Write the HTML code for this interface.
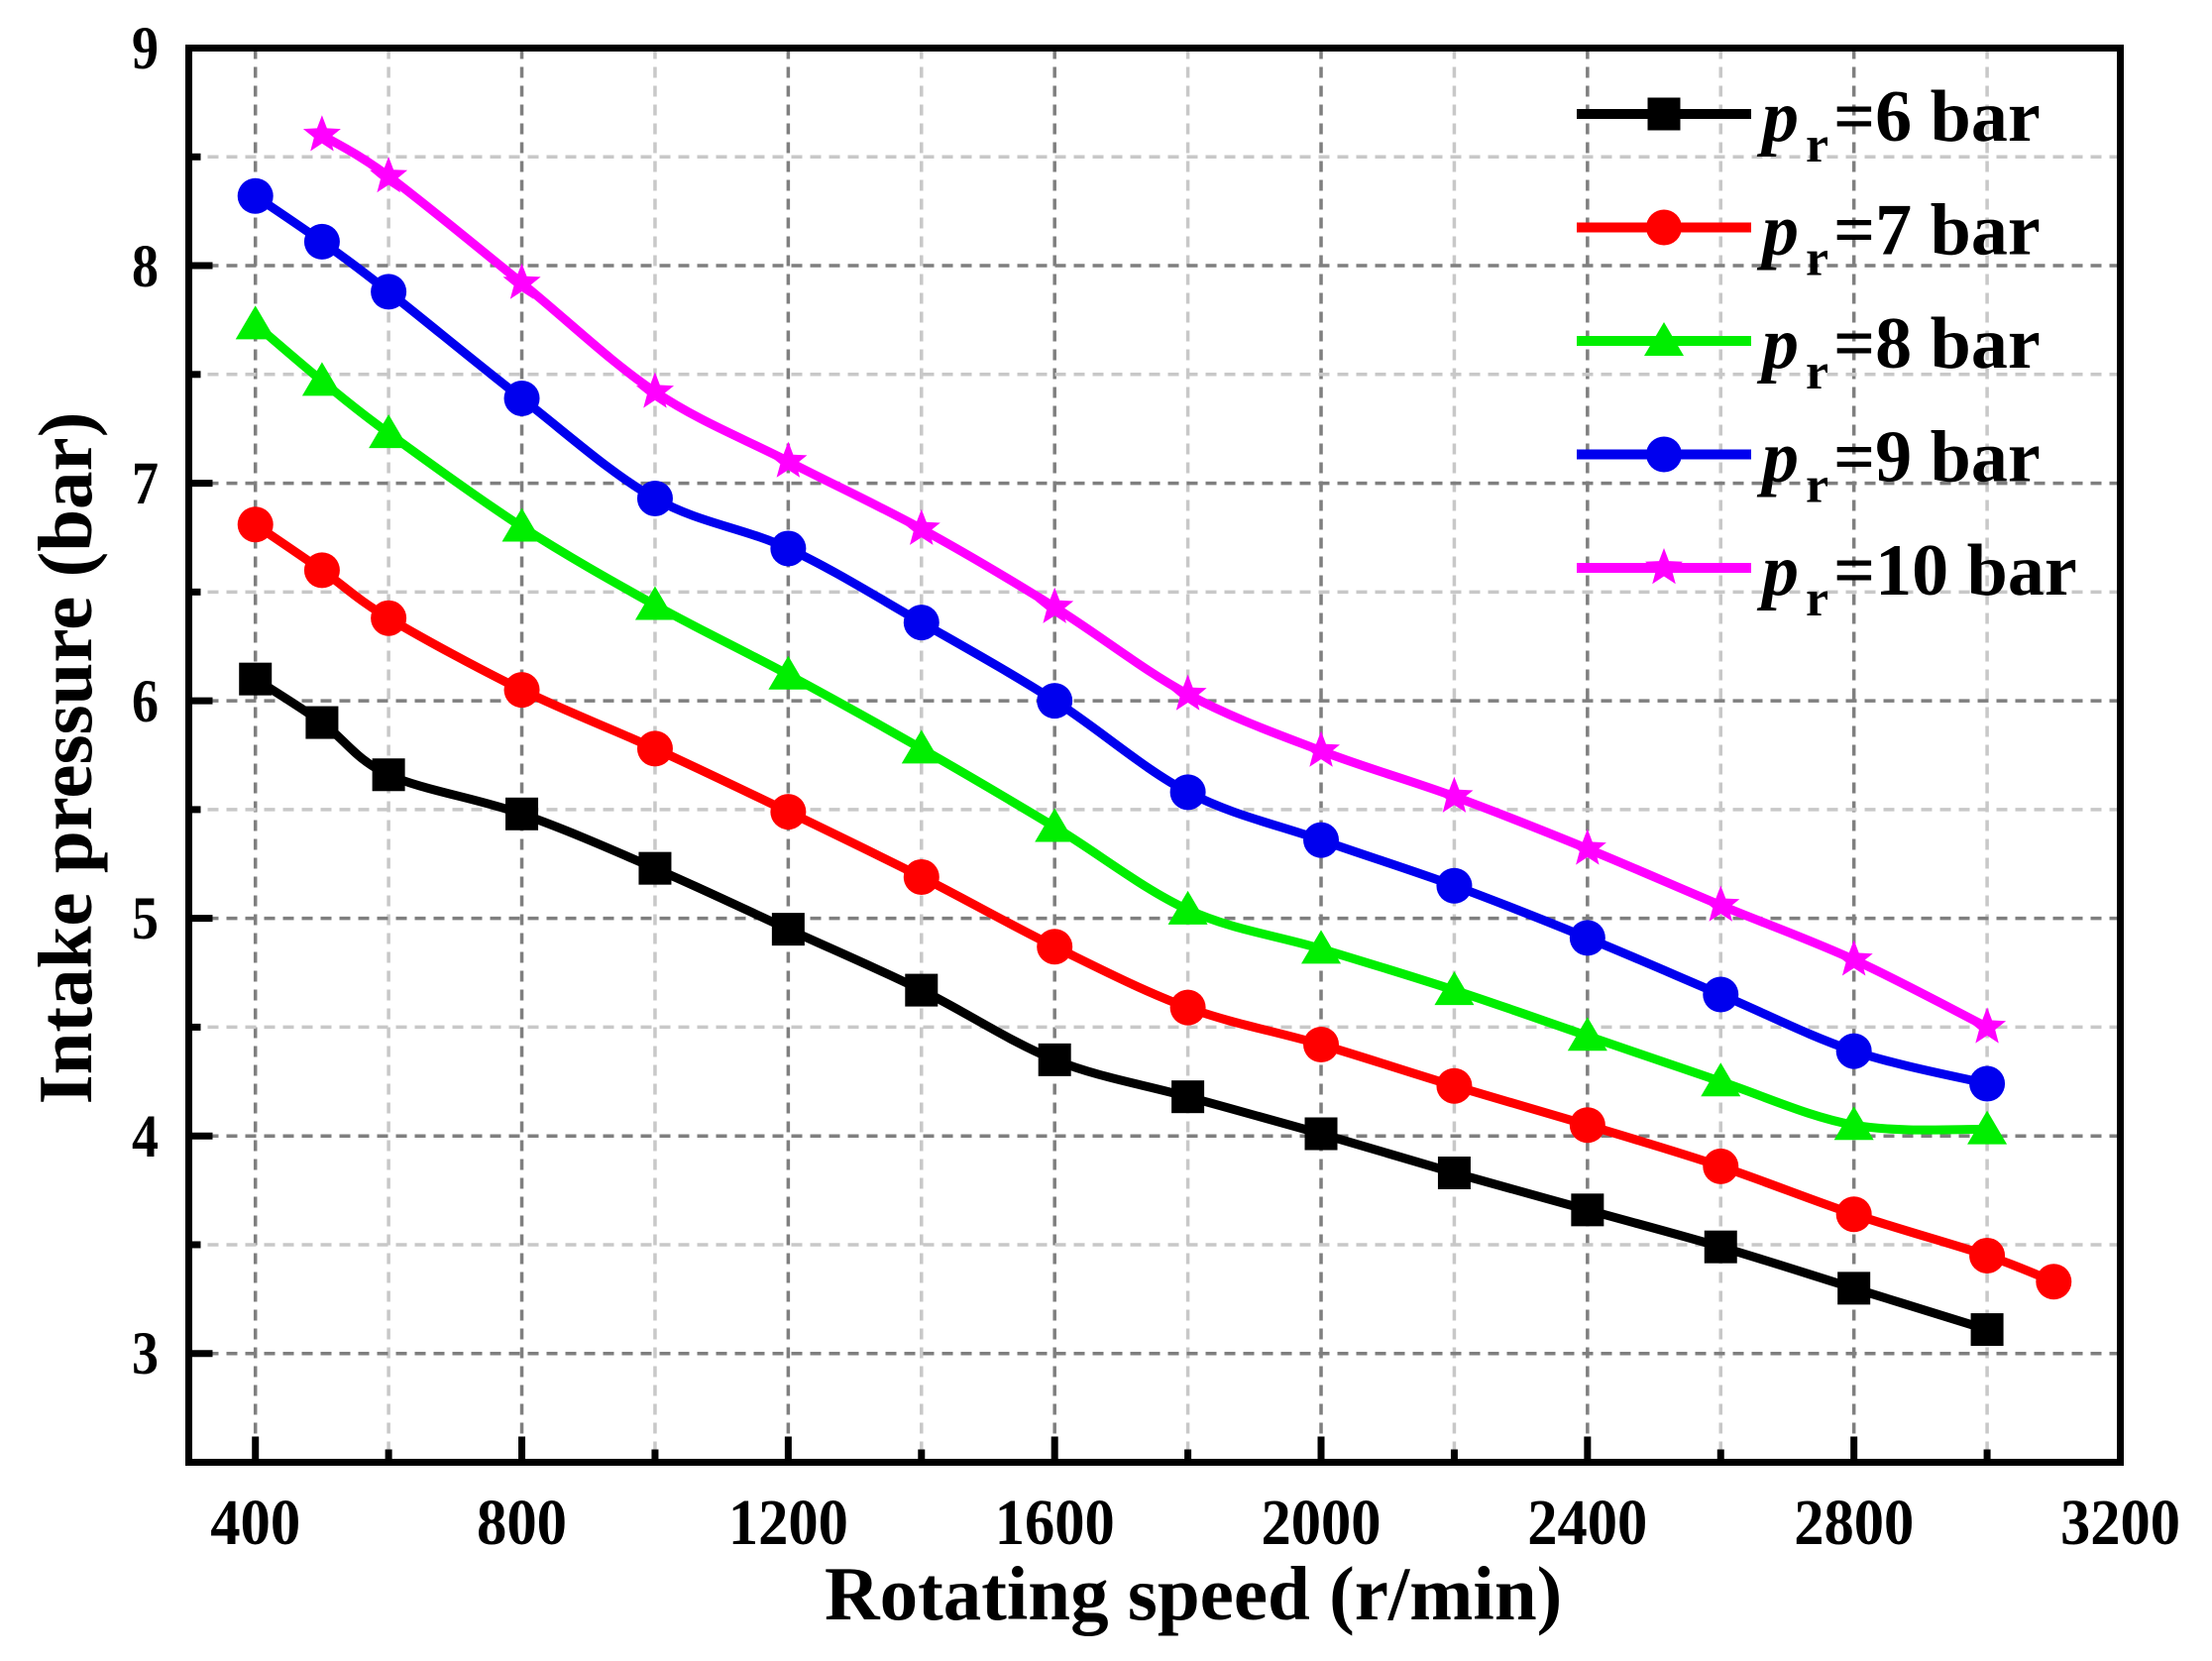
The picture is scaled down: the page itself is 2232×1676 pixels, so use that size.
<!DOCTYPE html>
<html>
<head>
<meta charset="utf-8">
<style>
  html, body { margin: 0; padding: 0; background: #ffffff; }
  svg { display: block; }
  text { font-family: "Liberation Serif", "Times New Roman", serif; font-weight: bold; fill: #000; }
</style>
</head>
<body>
<svg id="chart" xmlns="http://www.w3.org/2000/svg" width="2232" height="1676" viewBox="0 0 2232 1676">
  <rect x="0" y="0" width="2232" height="1676" fill="#ffffff"/>
  <g id="grid"></g>
  <g id="series"></g>
  <g id="legend"></g>
  <g id="axes"></g>

  <!-- Y tick labels -->
  <g font-size="61" text-anchor="end">
    <text x="160" y="69" textLength="27" lengthAdjust="spacingAndGlyphs">9</text>
    <text x="160" y="289" textLength="27" lengthAdjust="spacingAndGlyphs">8</text>
    <text x="160" y="508" textLength="27" lengthAdjust="spacingAndGlyphs">7</text>
    <text x="160" y="728" textLength="27" lengthAdjust="spacingAndGlyphs">6</text>
    <text x="160" y="947" textLength="27" lengthAdjust="spacingAndGlyphs">5</text>
    <text x="160" y="1167" textLength="27" lengthAdjust="spacingAndGlyphs">4</text>
    <text x="160" y="1386" textLength="27" lengthAdjust="spacingAndGlyphs">3</text>
  </g>

  <!-- X tick labels -->
  <g font-size="66" text-anchor="middle">
    <text x="257.7" y="1558" textLength="91" lengthAdjust="spacingAndGlyphs">400</text>
    <text x="526.5" y="1558" textLength="91" lengthAdjust="spacingAndGlyphs">800</text>
    <text x="795.4" y="1558" textLength="121" lengthAdjust="spacingAndGlyphs">1200</text>
    <text x="1064.2" y="1558" textLength="121" lengthAdjust="spacingAndGlyphs">1600</text>
    <text x="1333.0" y="1558" textLength="121" lengthAdjust="spacingAndGlyphs">2000</text>
    <text x="1601.8" y="1558" textLength="121" lengthAdjust="spacingAndGlyphs">2400</text>
    <text x="1870.7" y="1558" textLength="121" lengthAdjust="spacingAndGlyphs">2800</text>
    <text x="2139.5" y="1558" textLength="121" lengthAdjust="spacingAndGlyphs">3200</text>
  </g>

  <!-- Axis titles -->
  <text x="832" y="1634" font-size="77">Rotating speed (r/min)</text>
  <text transform="translate(92,765) rotate(-90)" font-size="77" text-anchor="middle">Intake pressure (bar)</text>

  <!-- Legend text -->
  <g font-size="74">
    <text x="1778" y="142"><tspan font-style="italic">p</tspan><tspan x="1822" dy="21" font-size="52">r</tspan><tspan x="1850" dy="-21">=6 bar</tspan></text>
    <text x="1778" y="256.5"><tspan font-style="italic">p</tspan><tspan x="1822" dy="21" font-size="52">r</tspan><tspan x="1850" dy="-21">=7 bar</tspan></text>
    <text x="1778" y="371"><tspan font-style="italic">p</tspan><tspan x="1822" dy="21" font-size="52">r</tspan><tspan x="1850" dy="-21">=8 bar</tspan></text>
    <text x="1778" y="485.5"><tspan font-style="italic">p</tspan><tspan x="1822" dy="21" font-size="52">r</tspan><tspan x="1850" dy="-21">=9 bar</tspan></text>
    <text x="1778" y="600"><tspan font-style="italic">p</tspan><tspan x="1822" dy="21" font-size="52">r</tspan><tspan x="1850" dy="-21">=10 bar</tspan></text>
  </g>
</svg>

<script>
(function(){
  var NS = "http://www.w3.org/2000/svg";
  var L = 190.5, R = 2139.5, T = 48.5, B = 1475.5;
  function X(x){ return L + (x - 300) * (R - L) / 2900; }
  function Y(v){ return T + (9 - v) * (B - T) / 6.5; }
  function el(tag, attrs, parent){
    var e = document.createElementNS(NS, tag);
    for (var k in attrs) e.setAttribute(k, attrs[k]);
    parent.appendChild(e);
    return e;
  }
  var grid = document.getElementById('grid');
  var series = document.getElementById('series');
  var legend = document.getElementById('legend');
  var axes = document.getElementById('axes');

  for (var x = 400; x <= 3000; x += 200) {
    var major = (x % 400 === 0);
    el('line', {x1: X(x), y1: T, x2: X(x), y2: B,
      stroke: major ? '#7f7f7f' : '#c8c8c8', 'stroke-width': 3.5,
      'stroke-dasharray': '11 8'}, grid);
  }
  for (var v = 3; v <= 8.5; v += 0.5) {
    var majorY = (Math.abs(v - Math.round(v)) < 1e-6);
    el('line', {x1: L, y1: Y(v), x2: R, y2: Y(v),
      stroke: majorY ? '#7f7f7f' : '#c8c8c8', 'stroke-width': 3.5,
      'stroke-dasharray': '11 8'}, grid);
  }

  var data = [
    {c:'#000000', m:'square', p:[[400,6.10],[500,5.90],[600,5.66],[800,5.48],[1000,5.23],[1200,4.95],[1400,4.67],[1600,4.35],[1800,4.18],[2000,4.01],[2200,3.83],[2400,3.66],[2600,3.49],[2800,3.30],[3000,3.11]]},
    {c:'#ff0000', m:'circle', p:[[400,6.81],[500,6.60],[600,6.38],[800,6.05],[1000,5.78],[1200,5.49],[1400,5.19],[1600,4.87],[1800,4.59],[2000,4.42],[2200,4.23],[2400,4.05],[2600,3.86],[2800,3.64],[3000,3.45],[3100,3.33]]},
    {c:'#00ee00', m:'tri', p:[[400,7.73],[500,7.47],[600,7.23],[800,6.80],[1000,6.44],[1200,6.12],[1400,5.78],[1600,5.42],[1800,5.04],[2000,4.86],[2200,4.67],[2400,4.46],[2600,4.25],[2800,4.05],[3000,4.03]]},
    {c:'#0000ee', m:'circle', p:[[400,8.32],[500,8.11],[600,7.88],[800,7.39],[1000,6.93],[1200,6.70],[1400,6.36],[1600,6.00],[1800,5.58],[2000,5.36],[2200,5.15],[2400,4.91],[2600,4.65],[2800,4.39],[3000,4.24]]},
    {c:'#ff00ff', m:'star', p:[[500,8.60],[600,8.41],[800,7.92],[1000,7.42],[1200,7.10],[1400,6.79],[1600,6.43],[1800,6.03],[2000,5.77],[2200,5.56],[2400,5.32],[2600,5.06],[2800,4.81],[3000,4.50]]}
  ];

  function smoothPath(pts){
    var P = pts.map(function(q){ return [X(q[0]), Y(q[1])]; });
    var d = 'M' + P[0][0].toFixed(1) + ',' + P[0][1].toFixed(1);
    for (var i = 0; i < P.length - 1; i++) {
      var p0 = P[i-1] || P[i], p1 = P[i], p2 = P[i+1], p3 = P[i+2] || P[i+1];
      var c1x = p1[0] + (p2[0] - p0[0]) / 6, c1y = p1[1] + (p2[1] - p0[1]) / 6;
      var c2x = p2[0] - (p3[0] - p1[0]) / 6, c2y = p2[1] - (p3[1] - p1[1]) / 6;
      d += ' C' + c1x.toFixed(1) + ',' + c1y.toFixed(1) + ' ' + c2x.toFixed(1) + ',' + c2y.toFixed(1) + ' ' + p2[0].toFixed(1) + ',' + p2[1].toFixed(1);
    }
    return d;
  }

  function starPts(cx, cy, Ro, Ri){
    var s = [];
    for (var k = 0; k < 10; k++) {
      var r = (k % 2 === 0) ? Ro : Ri;
      var a = -Math.PI / 2 + k * Math.PI / 5;
      s.push((cx + r * Math.cos(a)).toFixed(1) + ',' + (cy + r * Math.sin(a)).toFixed(1));
    }
    return s.join(' ');
  }

  function marker(type, cx, cy, color, parent){
    if (type === 'square') {
      el('rect', {x: cx - 16.5, y: cy - 16.5, width: 33, height: 33, fill: color}, parent);
    } else if (type === 'circle') {
      el('circle', {cx: cx, cy: cy, r: 18, fill: color}, parent);
    } else if (type === 'tri') {
      var pts = cx + ',' + (cy - 19) + ' ' + (cx - 20) + ',' + (cy + 15) + ' ' + (cx + 20) + ',' + (cy + 15);
      el('polygon', {points: pts, fill: color}, parent);
    } else if (type === 'star') {
      el('polygon', {points: starPts(cx, cy, 20, 8.5), fill: color}, parent);
    }
  }

  data.forEach(function(s){
    el('path', {d: smoothPath(s.p), fill: 'none', stroke: s.c, 'stroke-width': 9,
      'stroke-linejoin': 'round', 'stroke-linecap': 'round'}, series);
  });
  data.forEach(function(s){
    s.p.forEach(function(q){ marker(s.m, X(q[0]), Y(q[1]), s.c, series); });
  });

  var rows = [115, 229.5, 344, 458.5, 573];
  data.forEach(function(s, i){
    el('line', {x1: 1591, y1: rows[i], x2: 1767, y2: rows[i], stroke: s.c, 'stroke-width': 10}, legend);
    marker(s.m, 1679, rows[i], s.c, legend);
  });

  el('rect', {x: L, y: T, width: R - L, height: B - T, fill: 'none', stroke: '#000', 'stroke-width': 7}, axes);
  for (var tx = 400; tx <= 3000; tx += 200) {
    var mj = (tx % 400 === 0);
    el('line', {x1: X(tx), y1: B, x2: X(tx), y2: B - (mj ? 26 : 13), stroke: '#000', 'stroke-width': 7}, axes);
  }
  for (var ty = 3; ty <= 8.5; ty += 0.5) {
    var mjy = (Math.abs(ty - Math.round(ty)) < 1e-6);
    el('line', {x1: L, y1: Y(ty), x2: L + (mjy ? 24 : 12), y2: Y(ty), stroke: '#000', 'stroke-width': 7}, axes);
  }
})();
</script>
</body>
</html>
